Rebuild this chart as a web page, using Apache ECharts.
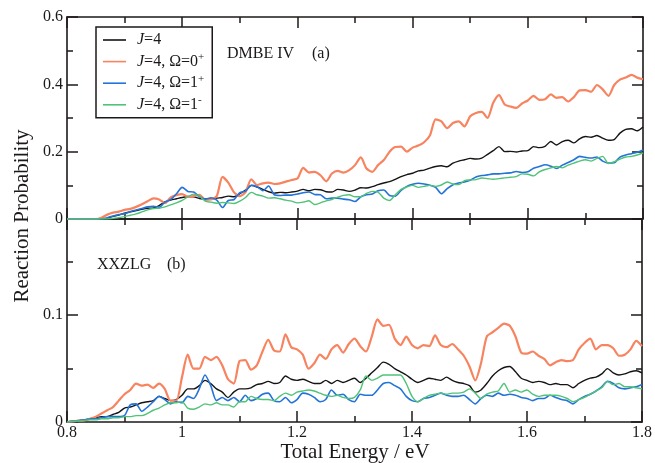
<!DOCTYPE html>
<html><head><meta charset="utf-8">
<script src="https://cdn.jsdelivr.net/npm/echarts@6/dist/echarts.min.js"></script>
<style>html,body{margin:0;padding:0;background:#fff}#c{width:655px;height:463px}</style>
</head><body><div id="c"></div>
<script>
const energy = [0.80,0.81,0.82,0.83,0.84,0.85,0.86,0.87,0.88,0.89,0.90,0.91,0.92,0.93,0.94,0.95,0.96,0.97,0.98,0.99,
1.00,1.01,1.02,1.03,1.04,1.05,1.06,1.07,1.08,1.09,1.10,1.11,1.12,1.13,1.14,1.15,1.16,1.17,1.18,1.19,
1.20,1.21,1.22,1.23,1.24,1.25,1.26,1.27,1.28,1.29,1.30,1.31,1.32,1.33,1.34,1.35,1.36,1.37,1.38,1.39,
1.40,1.41,1.42,1.43,1.44,1.45,1.46,1.47,1.48,1.49,1.50,1.51,1.52,1.53,1.54,1.55,1.56,1.57,1.58,1.59,
1.60,1.61,1.62,1.63,1.64,1.65,1.66,1.67,1.68,1.69,1.70,1.71,1.72,1.73,1.74,1.75,1.76,1.77,1.78,1.79,1.80];

// Panel (a) DMBE IV
const topJ4 = [0,0,0,0,0,0,0,
0.002,0.008,0.012,0.017,0.021,0.025,0.029,0.032,0.033,0.040,
0.051,0.056,0.060,0.064,0.067,0.066,0.061,0.060,0.059,0.062,
0.064,0.068,0.066,0.075,0.086,0.100,0.095,0.088,0.081,0.077,
0.079,0.078,0.080,0.083,0.088,0.084,0.088,0.087,0.081,0.080,
0.088,0.086,0.082,0.086,0.093,0.092,0.096,0.102,0.107,0.111,
0.118,0.126,0.132,0.136,0.143,0.145,0.151,0.156,0.158,0.155,
0.166,0.172,0.176,0.180,0.178,0.181,0.192,0.203,0.215,0.200,
0.201,0.199,0.202,0.203,0.215,0.212,0.216,0.230,0.220,0.230,
0.234,0.226,0.238,0.245,0.243,0.248,0.240,0.234,0.236,0.255,
0.266,0.268,0.262,0.273];
const topO0p = [0,0,0,0,0,0,
0.004,0.013,0.019,0.022,0.027,0.030,0.036,0.044,0.053,0.061,
0.058,0.047,0.064,0.071,0.074,0.066,0.068,0.072,0.057,0.058,
0.068,0.125,0.108,0.079,0.068,0.080,0.118,0.101,0.106,0.108,
0.104,0.106,0.111,0.116,0.120,0.152,0.138,0.140,0.130,0.112,
0.135,0.143,0.138,0.145,0.160,0.183,0.150,0.140,0.160,0.175,
0.200,0.214,0.215,0.200,0.212,0.218,0.228,0.248,0.296,0.290,
0.270,0.285,0.290,0.275,0.305,0.315,0.318,0.300,0.345,0.368,
0.340,0.334,0.330,0.343,0.352,0.366,0.354,0.356,0.370,0.360,
0.362,0.349,0.362,0.382,0.383,0.378,0.398,0.385,0.366,0.398,
0.414,0.420,0.428,0.420,0.415];
const topO1p = [0,0,0,0,0,0,0,
0.004,0.009,0.013,0.016,0.022,0.027,0.031,0.036,0.038,0.035,
0.050,0.058,0.075,0.094,0.082,0.080,0.066,0.059,0.063,0.056,
0.034,0.055,0.058,0.078,0.083,0.100,0.096,0.084,0.098,0.072,
0.070,0.071,0.071,0.074,0.078,0.080,0.073,0.072,0.060,0.062,
0.062,0.059,0.057,0.052,0.066,0.072,0.074,0.084,0.086,0.070,
0.068,0.085,0.097,0.103,0.106,0.104,0.100,0.094,0.075,0.090,
0.102,0.107,0.110,0.115,0.125,0.129,0.131,0.134,0.134,0.136,
0.137,0.141,0.138,0.140,0.151,0.156,0.161,0.157,0.150,0.160,
0.168,0.176,0.186,0.183,0.181,0.184,0.172,0.166,0.167,0.184,
0.190,0.194,0.198,0.205];
const topO1m = [0,0,0,0,0,0,0,0,
0.002,0.004,0.007,0.011,0.015,0.021,0.027,0.031,0.032,0.036,
0.042,0.048,0.055,0.066,0.074,0.068,0.053,0.050,0.047,0.049,
0.048,0.046,0.053,0.064,0.079,0.072,0.068,0.062,0.063,0.060,
0.056,0.053,0.048,0.050,0.054,0.043,0.048,0.054,0.058,0.065,
0.070,0.072,0.066,0.066,0.076,0.082,0.080,0.062,0.055,0.072,
0.088,0.095,0.100,0.094,0.097,0.100,0.097,0.101,0.110,0.104,
0.102,0.114,0.116,0.117,0.122,0.120,0.118,0.120,0.122,0.124,
0.126,0.134,0.133,0.128,0.140,0.147,0.152,0.156,0.152,0.160,
0.166,0.172,0.176,0.172,0.180,0.186,0.165,0.170,0.178,0.184,
0.186,0.190,0.196];

// Panel (b) XXZLG
const botJ4 = [0,0.0008,0.0015,0.002,0.003,0.004,0.005,0.005,0.007,0.009,
0.013,0.014,0.016,0.018,0.019,0.020,0.024,0.022,0.020,0.021,
0.025,0.031,0.031,0.034,0.039,0.036,0.031,0.028,0.023,0.028,
0.031,0.031,0.032,0.035,0.036,0.038,0.036,0.037,0.043,0.040,
0.039,0.040,0.038,0.036,0.036,0.039,0.036,0.039,0.037,0.039,
0.041,0.037,0.041,0.046,0.051,0.056,0.054,0.050,0.047,0.044,
0.040,0.037,0.039,0.041,0.040,0.039,0.042,0.039,0.037,0.036,
0.034,0.028,0.030,0.036,0.043,0.048,0.051,0.052,0.047,0.041,
0.039,0.037,0.038,0.037,0.035,0.036,0.035,0.035,0.032,0.036,
0.039,0.041,0.042,0.045,0.050,0.046,0.044,0.045,0.047,0.048,
0.046];
const botO0p = [0,0.0005,0.001,0.0015,0.003,0.005,0.008,0.011,0.014,0.020,
0.026,0.030,0.036,0.034,0.035,0.032,0.036,0.031,0.020,0.020,
0.042,0.063,0.050,0.050,0.061,0.058,0.061,0.053,0.040,0.036,
0.057,0.058,0.049,0.053,0.066,0.077,0.067,0.066,0.082,0.070,
0.068,0.063,0.050,0.055,0.063,0.059,0.068,0.072,0.065,0.073,
0.078,0.071,0.066,0.080,0.096,0.090,0.091,0.078,0.072,0.080,
0.072,0.069,0.072,0.071,0.081,0.072,0.070,0.073,0.068,0.062,
0.052,0.039,0.055,0.080,0.084,0.088,0.092,0.090,0.080,0.065,
0.064,0.066,0.062,0.059,0.053,0.056,0.058,0.057,0.058,0.068,
0.074,0.078,0.068,0.072,0.072,0.069,0.062,0.063,0.068,0.076,
0.071];
const botO1p = [0,0.0006,0.0012,0.002,0.0028,0.003,0.004,0.005,0.005,0.005,
0.006,0.016,0.017,0.010,0.014,0.019,0.024,0.021,0.017,0.019,
0.018,0.024,0.022,0.031,0.044,0.034,0.020,0.023,0.020,0.023,
0.019,0.025,0.020,0.022,0.026,0.027,0.020,0.019,0.023,0.018,
0.021,0.027,0.026,0.023,0.019,0.021,0.030,0.025,0.026,0.021,
0.019,0.026,0.025,0.025,0.030,0.036,0.037,0.034,0.031,0.024,
0.020,0.019,0.022,0.023,0.025,0.027,0.025,0.024,0.024,0.025,
0.021,0.017,0.022,0.025,0.024,0.027,0.025,0.026,0.025,0.023,
0.022,0.020,0.022,0.022,0.025,0.023,0.021,0.020,0.017,0.021,
0.024,0.026,0.029,0.033,0.038,0.036,0.032,0.031,0.032,0.033,
0.035];
const botO1m = [0,0.0005,0.001,0.0015,0.002,0.002,0.003,0.003,0.004,0.004,
0.005,0.005,0.006,0.006,0.008,0.011,0.013,0.016,0.018,0.018,
0.019,0.013,0.012,0.014,0.017,0.016,0.018,0.016,0.016,0.014,
0.019,0.019,0.024,0.022,0.021,0.021,0.020,0.024,0.027,0.025,
0.028,0.029,0.030,0.029,0.027,0.025,0.024,0.025,0.023,0.022,
0.023,0.030,0.043,0.039,0.041,0.044,0.044,0.044,0.044,0.036,
0.024,0.019,0.022,0.025,0.026,0.027,0.026,0.027,0.027,0.028,
0.031,0.027,0.022,0.026,0.028,0.029,0.036,0.028,0.030,0.028,
0.030,0.026,0.024,0.025,0.025,0.025,0.024,0.022,0.019,0.021,
0.023,0.026,0.029,0.032,0.038,0.035,0.036,0.033,0.033,0.032,
0.031];

const seriesNames = ['J=4', 'J=4, Ω=0+', 'J=4, Ω=1+', 'J=4, Ω=1-'];
const legendRich = {
  'J=4': '{g| }{i|J}{n|=4}',
  'J=4, Ω=0+': '{g| }{i|J}{n|=4, Ω=0}{s|+}',
  'J=4, Ω=1+': '{g| }{i|J}{n|=4, Ω=1}{s|+}',
  'J=4, Ω=1-': '{g| }{i|J}{n|=4, Ω=1}{s|-}'
};
const bTicksMajor = [0, 0.1];
const bTicksMinor = [0.05, 0.15];

const F = '"Liberation Serif", "Times New Roman", serif';
const INK = '#1c1818';
const TICK = '#201a1a';
const colors = ['#141414', '#f7835f', '#2373d9', '#4fc377'];
const widths = [1.4, 2.2, 1.6, 1.4];

const chart = echarts.init(document.getElementById('c'));

function pairs(v) { return energy.map((e, i) => [e, v[i]]); }
function axLine() { return {show: true, onZero: false, lineStyle: {color: INK, width: 1.6}}; }
function tk(len, vals) {
  const t = {show: true, inside: true, length: len, lineStyle: {color: TICK, width: 1.5}};
  if (vals) t.customValues = vals;
  return t;
}
function mtk() { return {show: true, splitNumber: 2, length: 6, lineStyle: {color: TICK, width: 1.5}}; }

function xAx(grid, pos, labels) {
  return {type: 'value', gridIndex: grid, position: pos, min: 0.8, max: 1.8, interval: 0.2,
    axisLine: axLine(), axisTick: tk(11), minorTick: mtk(),
    splitLine: {show: false}, minorSplitLine: {show: false},
    axisLabel: {show: labels, margin: 3, color: INK, fontFamily: F, fontSize: 16}};
}
function yTop(pos, labels) {
  return {type: 'value', gridIndex: 0, position: pos, min: 0, max: 0.6, interval: 0.2,
    axisLine: axLine(), axisTick: tk(11), minorTick: mtk(),
    splitLine: {show: false}, minorSplitLine: {show: false},
    axisLabel: {show: labels, margin: 4, color: INK, fontFamily: F, fontSize: 16}};
}
function yBot(pos, ticks, len, line, labels) {
  const ax = axLine();
  ax.show = line;
  return {type: 'value', gridIndex: 1, position: pos, min: 0, max: 0.19,
    axisLine: ax, axisTick: tk(len, ticks), splitLine: {show: false},
    axisLabel: labels ? {show: true, margin: 4, color: INK, fontFamily: F, fontSize: 16, customValues: bTicksMajor}
                      : {show: false}};
}

const topData = [topJ4, topO0p, topO1p, topO1m];
const botData = [botJ4, botO0p, botO1p, botO1m];
const series = [];
topData.forEach((d, k) => series.push({type: 'line', name: seriesNames[k], xAxisIndex: 0, yAxisIndex: 0,
  data: pairs(d), symbol: 'none', smooth: 0.25, lineStyle: {color: colors[k], width: widths[k]}, itemStyle: {color: colors[k]}}));
botData.forEach((d, k) => series.push({type: 'line', name: seriesNames[k], xAxisIndex: 2, yAxisIndex: 2,
  data: pairs(d), symbol: 'none', smooth: 0.25, lineStyle: {color: colors[k], width: widths[k]}, itemStyle: {color: colors[k]}}));

chart.setOption({
  animation: false,
  grid: [
    {left: 67, top: 17, width: 576, height: 202, show: false},
    {left: 67, top: 219, width: 576, height: 203, show: false}
  ],
  xAxis: [xAx(0, 'bottom', false), xAx(0, 'top', false), xAx(1, 'bottom', true), xAx(1, 'top', false)],
  yAxis: [yTop('left', true), yTop('right', false),
          yBot('left', bTicksMajor, 11, true, true), yBot('left', bTicksMinor, 6, false, false),
          yBot('right', bTicksMajor, 11, true, false), yBot('right', bTicksMinor, 6, false, false)],
  legend: {
    data: seriesNames, orient: 'vertical', left: 96, top: 27, padding: [5, 8, 5, 7], itemGap: 3.6,
    icon: 'rect', itemWidth: 23, itemHeight: 1.6, borderColor: INK, borderWidth: 1.5, backgroundColor: '#ffffff',
    selectedMode: false,
    formatter: n => legendRich[n],
    textStyle: {fontFamily: F, fontSize: 16, color: INK, rich: {
      g: {width: 6},
      i: {fontFamily: F, fontStyle: 'italic', fontSize: 16, lineHeight: 20, color: INK},
      n: {fontFamily: F, fontSize: 16, lineHeight: 20, color: INK},
      s: {fontFamily: F, fontSize: 11, lineHeight: 11, verticalAlign: 'top', color: INK}
    }}
  },
  graphic: [
    {type: 'text', x: 227, y: 54, style: {text: 'DMBE IV', fontFamily: F, fontSize: 16, fill: INK, verticalAlign: 'middle'}},
    {type: 'text', x: 312, y: 54, style: {text: '(a)', fontFamily: F, fontSize: 16, fill: INK, verticalAlign: 'middle'}},
    {type: 'text', x: 97, y: 265, style: {text: 'XXZLG', fontFamily: F, fontSize: 16, fill: INK, verticalAlign: 'middle'}},
    {type: 'text', x: 167, y: 265, style: {text: '(b)', fontFamily: F, fontSize: 16, fill: INK, verticalAlign: 'middle'}},
    {type: 'text', x: 355, y: 452, style: {text: 'Total Energy / eV', fontFamily: F, fontSize: 21, fill: INK, align: 'center', verticalAlign: 'middle'}},
    {type: 'text', x: 22, y: 216, rotation: Math.PI / 2, style: {text: 'Reaction Probability', fontFamily: F, fontSize: 21, fill: INK, align: 'center', verticalAlign: 'middle'}}
  ],
  series: series
});
</script></body></html>
